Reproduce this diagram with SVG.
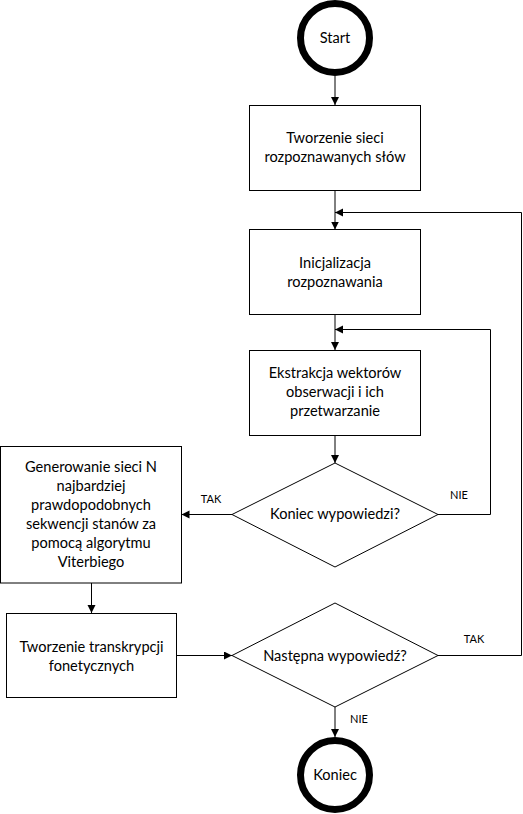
<svg xmlns="http://www.w3.org/2000/svg" width="523" height="814" viewBox="0 0 523 814">
<style>
.box{fill:#fff;stroke:#000;stroke-width:1}
.term{fill:#fff;stroke:#000;stroke-width:7}
.t{font-family:Lato,"Open Sans",sans-serif;font-size:14.6px;fill:#000;text-anchor:middle}
.lbl{font-family:Lato,"Open Sans",sans-serif;font-size:11px;fill:#000;text-anchor:middle}
.c{fill:none;stroke:#000;stroke-width:1}
</style>
<defs>
<marker id="arr" markerUnits="userSpaceOnUse" markerWidth="9" markerHeight="9" refX="8" refY="4" orient="auto">
<path d="M0,0 L8,4 L0,8 z" fill="#000"/>
</marker>
</defs>
<rect width="523" height="814" fill="#fff"/>
<g id="connectors">
<path class="c" d="M335,76 V105" marker-end="url(#arr)"/>
<path class="c" d="M335,190 V229.5" marker-end="url(#arr)"/>
<path class="c" d="M335,314 V350" marker-end="url(#arr)"/>
<path class="c" d="M335,435 V463" marker-end="url(#arr)"/>
<path class="c" d="M232,514.5 H181.5" marker-end="url(#arr)"/>
<path class="c" d="M438,514.5 H490.5 V329.5 H335" marker-end="url(#arr)"/>
<path class="c" d="M91.5,583 V613" marker-end="url(#arr)"/>
<path class="c" d="M176.5,655.5 H232" marker-end="url(#arr)"/>
<path class="c" d="M438,655.5 H521.5 V212.5 H335" marker-end="url(#arr)"/>
<path class="c" d="M335,707 V737" marker-end="url(#arr)"/>
<text class="lbl" x="211" y="503">TAK</text>
<text class="lbl" x="459" y="499">NIE</text>
<text class="lbl" x="474" y="643">TAK</text>
<text class="lbl" x="359" y="723">NIE</text>
</g>
<g id="start">
<circle class="term" cx="335" cy="38" r="34.5"/>
<text class="t" x="335" y="43">Start</text>
</g>
<g id="box1">
<rect class="box" x="249.5" y="105.5" width="171" height="85"/>
<text class="t" x="335" y="143">Tworzenie sieci</text>
<text class="t" x="335" y="162">rozpoznawanych słów</text>
</g>
<g id="box2">
<rect class="box" x="249.5" y="229.5" width="171" height="85"/>
<text class="t" x="335" y="268">Inicjalizacja</text>
<text class="t" x="335" y="287">rozpoznawania</text>
</g>
<g id="box3">
<rect class="box" x="249.5" y="350.5" width="171" height="85"/>
<text class="t" x="335" y="378">Ekstrakcja wektorów</text>
<text class="t" x="335" y="397">obserwacji i ich</text>
<text class="t" x="335" y="416">przetwarzanie</text>
</g>
<g id="decision1">
<polygon class="box" points="335,463 438,514.5 335,567 232,514.5"/>
<text class="t" x="335" y="519">Koniec wypowiedzi?</text>
</g>
<g id="box-gen">
<rect class="box" x="0.5" y="446.5" width="181" height="136.5"/>
<text class="t" x="91" y="472">Generowanie sieci N</text>
<text class="t" x="91" y="491">najbardziej</text>
<text class="t" x="91" y="510">prawdopodobnych</text>
<text class="t" x="91" y="529">sekwencji stanów za</text>
<text class="t" x="91" y="548">pomocą algorytmu</text>
<text class="t" x="91" y="567">Viterbiego</text>
</g>
<g id="box4">
<rect class="box" x="6.5" y="613.5" width="170" height="84"/>
<text class="t" x="91.5" y="652">Tworzenie transkrypcji</text>
<text class="t" x="91.5" y="671">fonetycznych</text>
</g>
<g id="decision2">
<polygon class="box" points="335,603 438,655.5 335,707 232,655.5"/>
<text class="t" x="335" y="661">Następna wypowiedź?</text>
</g>
<g id="end">
<circle class="term" cx="335" cy="775" r="34.5"/>
<text class="t" x="335" y="780">Koniec</text>
</g>
</svg>
